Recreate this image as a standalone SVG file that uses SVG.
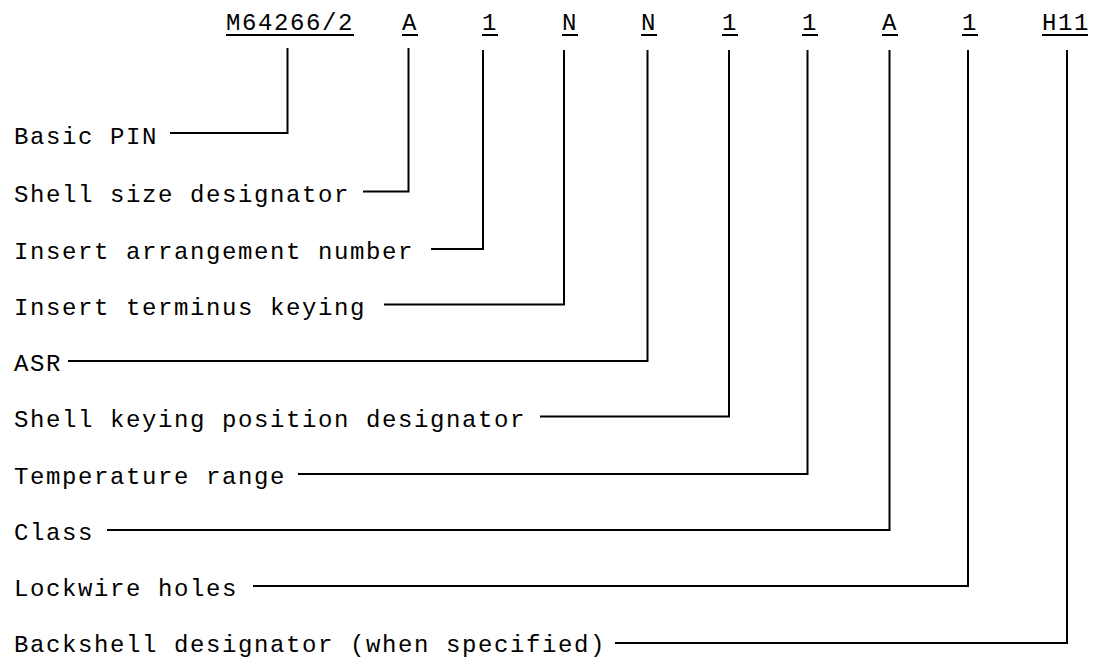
<svg xmlns="http://www.w3.org/2000/svg" width="1093" height="657" viewBox="0 0 1093 657">
<style>
text{font-family:"Courier New",Courier,"Nimbus Mono PS","FreeMono","Liberation Mono",monospace;font-size:24px;letter-spacing:1.6px;fill:#000}
.u{stroke:#000;stroke-width:2}
.c{fill:none;stroke:#000;stroke-width:2}
</style>
<rect width="1093" height="657" fill="#fff"/>
<g id="code">
<g id="seg-basic"><text x="226" y="30">M64266/2</text><line class="u" x1="226" y1="35" x2="354" y2="35"/></g>
<g id="seg-shell"><text x="402" y="30">A</text><line class="u" x1="402" y1="35" x2="418" y2="35"/></g>
<g id="seg-insert"><text x="482" y="30">1</text><line class="u" x1="482" y1="35" x2="498" y2="35"/></g>
<g id="seg-keying"><text x="562" y="30">N</text><line class="u" x1="562" y1="35" x2="578" y2="35"/></g>
<g id="seg-asr"><text x="641" y="30">N</text><line class="u" x1="641" y1="35" x2="657" y2="35"/></g>
<g id="seg-shellkey"><text x="722" y="30">1</text><line class="u" x1="722" y1="35" x2="738" y2="35"/></g>
<g id="seg-temp"><text x="802" y="30">1</text><line class="u" x1="802" y1="35" x2="818" y2="35"/></g>
<g id="seg-class"><text x="882" y="30">A</text><line class="u" x1="882" y1="35" x2="898" y2="35"/></g>
<g id="seg-lockwire"><text x="962" y="30">1</text><line class="u" x1="962" y1="35" x2="978" y2="35"/></g>
<g id="seg-backshell"><text x="1042" y="30">H11</text><line class="u" x1="1042" y1="35" x2="1088" y2="35"/></g>
</g>
<g id="labels">
<g id="lbl-basic"><text x="14" y="144">Basic PIN</text></g>
<g id="lbl-shell"><text x="14" y="202">Shell size designator</text></g>
<g id="lbl-insert"><text x="14" y="259">Insert arrangement number</text></g>
<g id="lbl-keying"><text x="14" y="315">Insert terminus keying</text></g>
<g id="lbl-asr"><text x="14" y="371">ASR</text></g>
<g id="lbl-shellkey"><text x="14" y="427">Shell keying position designator</text></g>
<g id="lbl-temp"><text x="14" y="484">Temperature range</text></g>
<g id="lbl-class"><text x="14" y="540">Class</text></g>
<g id="lbl-lockwire"><text x="14" y="596">Lockwire holes</text></g>
<g id="lbl-backshell"><text x="14" y="652">Backshell designator (when specified)</text></g>
</g>
<g id="connectors">
<polyline class="c" points="170,133 287.5,133 287.5,48"/>
<polyline class="c" points="363,191.5 408.5,191.5 408.5,48"/>
<polyline class="c" points="431,249 483,249 483,50"/>
<polyline class="c" points="384,304.5 564,304.5 564,50"/>
<polyline class="c" points="68,361 647.5,361 647.5,50"/>
<polyline class="c" points="540,416.5 729,416.5 729,50"/>
<polyline class="c" points="298,474 807.5,474 807.5,50"/>
<polyline class="c" points="107,530 889.5,530 889.5,50"/>
<polyline class="c" points="253,586 968,586 968,50"/>
<polyline class="c" points="615,643 1067,643 1067,50"/>
</g>
</svg>
